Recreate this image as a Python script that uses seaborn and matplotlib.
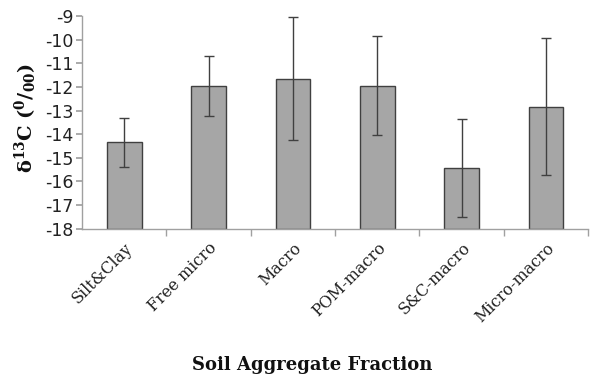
import matplotlib
matplotlib.use("Agg")
import matplotlib.pyplot as plt
import matplotlib.transforms as mtransforms
import seaborn as sns
import numpy as np
import pandas as pd

categories = ["Silt&Clay", "Free micro", "Macro", "POM-macro", "S&C-macro", "Micro-macro"]
means = [-14.35, -11.95, -11.65, -11.95, -15.42, -12.84]
errors = [1.05, 1.27, 2.6, 2.1, 2.08, 2.9]
yticks = [-18, -17, -16, -15, -14, -13, -12, -11, -10, -9]
baseline = -18

sns.set_theme(style="white")
plt.rcParams["mathtext.fontset"] = "custom"
plt.rcParams["mathtext.rm"] = "DejaVu Serif"
plt.rcParams["mathtext.bf"] = "DejaVu Serif:bold"

df = pd.DataFrame({"cat": categories, "mean": means, "err": errors})
df["height"] = df["mean"] - baseline

fig = plt.figure(figsize=(5.99, 3.76), dpi=100)
ax = fig.add_axes([0.137, 0.392, 0.845, 0.565])

sns.barplot(data=df, x="cat", y="height", bottom=baseline, errorbar=None,
            color="#a6a6a6", saturation=1, width=0.41,
            edgecolor="#404040", linewidth=1.0, ax=ax)
ax.errorbar(np.arange(len(categories)), df["mean"], yerr=df["err"], fmt="none",
            ecolor="#404040", elinewidth=1.0, capsize=3.5, capthick=1.0, zorder=5)

ax.set_ylim(-18, -9)
ax.set_xlim(-0.5, len(categories) - 0.5)
ax.set_yticks(yticks)
ax.set_yticklabels([str(t) for t in yticks], fontsize=12.5, family="DejaVu Sans",
                   color="#222222")
ax.set_xticks(np.arange(len(categories)))
ax.set_xticklabels(categories, rotation=45, ha="right", rotation_mode="anchor",
                   fontsize=11.5, family="DejaVu Serif", color="#222222")
offset = mtransforms.ScaledTranslation(6 / 100, 0, fig.dpi_scale_trans)
for lab in ax.get_xticklabels():
    lab.set_transform(lab.get_transform() + offset)
ax.set_xticks(np.arange(0.5, len(categories) - 0.4, 1.0), minor=True)
ax.tick_params(axis="x", which="major", length=0, pad=8)
ax.tick_params(axis="x", which="minor", length=5, color="#a0a0a0", direction="out", bottom=True)
ax.tick_params(axis="y", length=4, color="#a0a0a0", direction="out", left=True, pad=2)

for s in ["top", "right"]:
    ax.spines[s].set_visible(False)
for s in ["left", "bottom"]:
    ax.spines[s].set_color("#a0a0a0")
    ax.spines[s].set_linewidth(1.0)

ax.set_xlabel("Soil Aggregate Fraction", fontsize=13, fontweight="bold",
              family="DejaVu Serif", color="#111111")
ax.xaxis.set_label_coords(0.455, -0.6)
ax.set_ylabel(r"$\mathbf{\delta^{13}C\ (^{0}/_{00})}$", fontsize=14, color="#111111")
ax.yaxis.set_label_coords(-0.085, 0.52)

fig.savefig("out.png", dpi=100)
